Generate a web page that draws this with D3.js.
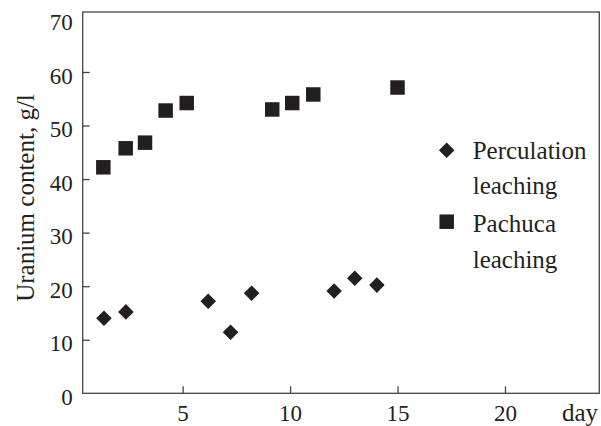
<!DOCTYPE html>
<html>
<head>
<meta charset="utf-8">
<script src="https://cdnjs.cloudflare.com/ajax/libs/d3/7.8.5/d3.min.js"></script>
<style>
  body { margin: 0; background: #fff; }
  svg text { fill: #231f20; }
</style>
</head>
<body>
<div id="chart-area"></div>
<script>
// data
var pachucaDays = [1.31, 2.35, 3.25, 4.21, 5.19, 9.17, 10.1, 11.08, 15.0];
var pachucaValues = [42.2, 45.75, 46.8, 52.8, 54.2, 53.0, 54.2, 55.8, 57.1];
var percDays = [1.34, 2.36, 6.19, 7.23, 8.21, 12.05, 13.01, 14.04];
var percValues = [14.0, 15.2, 17.2, 11.4, 18.7, 19.1, 21.5, 20.2];
var xTicks = [5, 10, 15, 20];
var yTicks = [0, 10, 20, 30, 40, 50, 60, 70];
var legendLabels = [["Perculation", "leaching"], ["Pachuca", "leaching"]];

var W = 601, H = 426;
var ink = "#231f20";
var serif = "'Liberation Serif', 'DejaVu Serif', 'Noto Serif', Tinos, 'Nimbus Roman', FreeSerif, Times, serif";

var svg = d3.select("#chart-area").append("svg")
    .attr("width", W)
    .attr("height", H)
    .style("font-family", serif);

// scales
var x = d3.scaleLinear().domain([0.35, 24.39]).range([82.7, 599.3]);
var y = d3.scaleLinear().domain([0, 71.2]).range([393.3, 12]);

// frame
svg.append("rect")
    .attr("x", x.range()[0])
    .attr("y", y.range()[1])
    .attr("width", x.range()[1] - x.range()[0])
    .attr("height", y.range()[0] - y.range()[1])
    .attr("fill", "none")
    .attr("stroke", "#444")
    .attr("stroke-width", 1.3);

// axes with inward ticks
var xAxisCall = d3.axisTop(x).tickValues(xTicks).tickSize(7).tickFormat(d3.format("d"));
var gx = svg.append("g")
    .attr("class", "x axis")
    .attr("transform", `translate(0, ${y.range()[0]})`)
    .call(xAxisCall)
    .attr("font-family", null)
    .attr("font-size", null);
gx.select(".domain").remove();
gx.selectAll("line").attr("stroke", "#444").attr("stroke-width", 1.3);
gx.selectAll("text")
    .attr("y", 28)
    .attr("dy", 0)
    .style("font-size", "23px")
    .attr("fill", ink);

var yAxisCall = d3.axisRight(y).tickValues(yTicks).tickSize(7);
var gy = svg.append("g")
    .attr("class", "y axis")
    .attr("transform", `translate(${x.range()[0]}, 0)`)
    .call(yAxisCall)
    .attr("font-family", null)
    .attr("font-size", null);
gy.select(".domain").remove();
gy.selectAll("line").attr("stroke", "#444").attr("stroke-width", 1.3);
gy.selectAll("text")
    .attr("x", -10)
    .attr("dy", "0.48em")
    .attr("text-anchor", "end")
    .style("font-size", "23px")
    .attr("fill", ink);
// no tick mark at 0 / 70 (they sit on the frame)
gy.selectAll(".tick").filter(function (d) { return d === 0 || d === 70; }).select("line").remove();

// axis titles
svg.append("text")
    .attr("transform", "translate(34, 198) rotate(-90)")
    .attr("text-anchor", "middle")
    .style("font-size", "25px")
    .text("Uranium content, g/l");

svg.append("text")
    .attr("x", 598)
    .attr("y", 421)
    .attr("text-anchor", "end")
    .style("font-size", "25px")
    .text("day");

// points
var square = d3.symbol().type(d3.symbolSquare).size(210);
var diamond = d3.symbol().type(d3.symbolSquare).size(121);

svg.selectAll(".pachuca")
    .data(pachucaDays)
    .enter()
    .append("path")
    .attr("class", "pachuca")
    .attr("d", square)
    .attr("transform", function (d, i) {
        return `translate(${x(d)}, ${y(pachucaValues[i])})`;
    })
    .attr("fill", ink);

svg.selectAll(".perc")
    .data(percDays)
    .enter()
    .append("path")
    .attr("class", "perc")
    .attr("d", diamond)
    .attr("transform", function (d, i) {
        return `translate(${x(d)}, ${y(percValues[i])}) rotate(45)`;
    })
    .attr("fill", ink);

// legend
var legend = svg.append("g").attr("class", "legend");
legend.append("path")
    .attr("d", diamond)
    .attr("transform", "translate(446.7, 150.3) rotate(45)")
    .attr("fill", ink);
legend.append("path")
    .attr("d", square)
    .attr("transform", "translate(446.7, 221.7)")
    .attr("fill", ink);

var baselines = [[159, 194], [232.3, 268.3]];
legendLabels.forEach(function (lines, i) {
    lines.forEach(function (t, j) {
        legend.append("text")
            .attr("x", 472.7)
            .attr("y", baselines[i][j])
            .style("font-size", "25px")
            .text(t);
    });
});
</script>
</body>
</html>
